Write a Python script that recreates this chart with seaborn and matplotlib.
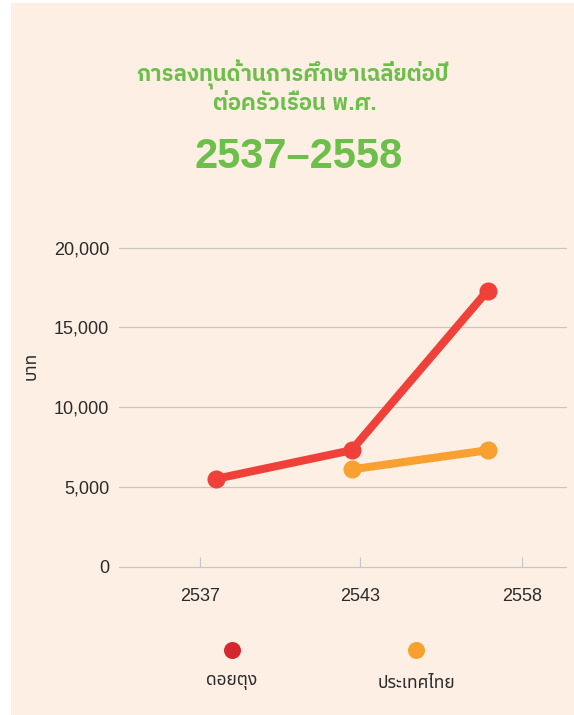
# -*- coding: utf-8 -*-
"""
Average household spending on education per year, Doi Tung vs Thailand,
B.E. 2537-2558.  Line chart recreated with seaborn.
"""
import matplotlib
matplotlib.use("Agg")
import matplotlib.pyplot as plt
from matplotlib.patches import Rectangle
import pandas as pd
import seaborn as sns

# Data.
years = ['2537', '2543', '2558']
doitung = [5500, 7300, 17300]
thailand = [None, 6100, 7300]
series_names = ['ดอยตุง', 'ประเทศไทย']
y_ticks = [0, 5000, 10000, 15000, 20000]
y_tick_labels = ['0', '5,000', '10,000', '15,000', '20,000']

title_lines = ['การลงทุนด้านการศึกษาเฉลี่ยต่อปี', 'ต่อครัวเรือน พ.ศ.']
title_years = '2537–2558'
y_label = 'บาท'

# Colours.
line_colors = ['#f0403a', '#f8a030']
dot_colors = ['#d5272e', '#f7a030']
green = '#6cbf4a'
panel = '#fdefe3'
grid_color = '#cbc6c1'
text_color = '#2b2b2b'

# Long-form table for seaborn; x is the category position of the year.
df = pd.DataFrame({
    'pos': list(range(len(years))) * 2,
    'value': doitung + thailand,
    'area': [series_names[0]] * len(years) + [series_names[1]] * len(years),
}).dropna()

sns.set_style('white')
plt.rcParams['font.family'] = ['Liberation Sans', 'Noto Sans Thai']
title_font = ['Liberation Sans', 'IBM Plex Sans Thai']

W, H = 574, 715
fig = plt.figure(figsize=(W / 100, H / 100), dpi=100)
fig.patch.set_facecolor('white')
fig.patches.append(Rectangle((11 / W, 0), 1 - 11 / W, (H - 3) / H,
                             transform=fig.transFigure, color=panel,
                             zorder=-10))

# Main axes.
ax = fig.add_axes([119 / W, (H - 566.7) / H, (566 - 119) / W,
                   (566.7 - 247.7) / H])
ax.set_facecolor('none')
sns.lineplot(data=df, x='pos', y='value', hue='area',
             hue_order=series_names, palette=line_colors,
             marker='o', markersize=13, markeredgewidth=0,
             linewidth=5.8, legend=False, ax=ax, clip_on=False)

ax.set_xlim(-0.7096, 2.577)
ax.set_ylim(0, 20000)
for s in ax.spines.values():
    s.set_visible(False)
for yv in y_ticks:
    ax.axhline(yv, color=grid_color, lw=0.9, zorder=0, clip_on=False)

ax.set_yticks(y_ticks, labels=y_tick_labels)
ax.tick_params(axis='y', left=False, length=0, pad=7, labelsize=13,
               labelcolor=text_color)
ax.set_xticks([-0.112, 1.065, 2.256], labels=years)
ax.tick_params(axis='x', bottom=True, direction='in', length=7, width=0.8,
               color='#c2c6cc', pad=15, labelsize=13,
               labelcolor=text_color)
ax.set_xlabel('')
ax.set_ylabel(y_label, fontsize=12.5, color=text_color, labelpad=0)
ax.yaxis.set_label_coords((39 - 119) / (566 - 119),
                          (566.7 - 366) / (566.7 - 247.7))

# Title block.
fig.text(292 / W, 1 - 75 / H, title_lines[0], ha='center', va='center',
         color=green, fontsize=15.8, fontweight='bold', family=title_font)
fig.text(295 / W, 1 - 104 / H, title_lines[1], ha='center', va='center',
         color=green, fontsize=15.8, fontweight='bold', family=title_font)
fig.text(299 / W, 1 - 157 / H, title_years, ha='center', va='center',
         color=green, fontsize=30, fontweight='bold')

# Legend: dot above each label.
lax = fig.add_axes([0, 0, 1, 143 / H])
lax.set_xlim(0, W)
lax.set_ylim(0, 143)
lax.axis('off')
for name, col, xp in zip(series_names, dot_colors, [232, 416]):
    lax.scatter([xp], [65], s=150, color=col, linewidths=0)
    lax.text(xp, 32, name, ha='center', va='center', fontsize=12.5,
             color=text_color)

fig.savefig('out.png', dpi=100)
